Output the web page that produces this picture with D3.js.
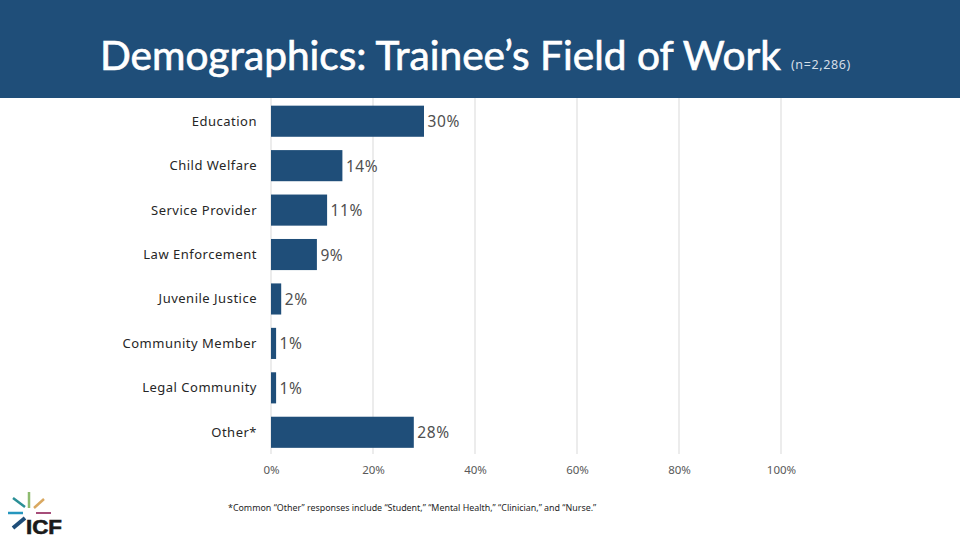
<!DOCTYPE html>
<html>
<head>
<meta charset="utf-8">
<style>
  html, body { margin: 0; padding: 0; background: #fff; }
  svg { display: block; }
  text { font-family: "Noto Sans", sans-serif; }
</style>
<script src="https://cdn.jsdelivr.net/npm/d3@7"></script>
</head>
<body>
<script>
var categories = ['Education', 'Child Welfare', 'Service Provider', 'Law Enforcement',
  'Juvenile Justice', 'Community Member', 'Legal Community', 'Other*'];
var values = [30, 14, 11, 9, 2, 1, 1, 28];
var xTicks = [0, 20, 40, 60, 80, 100];

var titleText = 'Demographics: Trainee\u2019s Field of Work';
var subText = '(n=2,286)';
var noteText = '*Common \u201cOther\u201d responses include \u201cStudent,\u201d \u201cMental Health,\u201d \u201cClinician,\u201d and \u201cNurse.\u201d';

var blue = '#1f4e79';

var svg = d3.select('body').append('svg')
  .attr('width', 960)
  .attr('height', 540);

// header band
svg.append('rect').attr('x', 0).attr('y', 0).attr('width', 960).attr('height', 98).attr('fill', blue);
svg.append('text').attr('x', 100).attr('y', 70)
  .attr('textLength', 681).attr('lengthAdjust', 'spacingAndGlyphs')
  .style('font-family', 'Lato').style('font-size', '41px').attr('fill', '#fff')
  .attr('stroke', '#fff').attr('stroke-width', 0.7)
  .text(titleText);
svg.append('text').attr('x', 791).attr('y', 69)
  .style('font-size', '12.5px').style('letter-spacing', '0.6px').attr('fill', '#d5dee8')
  .text(subText);

var x = d3.scaleLinear().domain([0, 100]).range([271, 781]);
var y = d3.scaleBand().domain(categories).range([99, 454.5]).paddingInner(0.3).paddingOuter(0.15);

// gridlines
svg.append('g').selectAll('line').data(xTicks).enter().append('line')
  .attr('x1', function (d) { return x(d); })
  .attr('x2', function (d) { return x(d); })
  .attr('y1', 98).attr('y2', 454)
  .attr('stroke', '#d9d9d9').attr('stroke-width', 1);

svg.append('g').selectAll('rect').data(values).enter().append('rect')
  .attr('x', x(0))
  .attr('y', function (d, i) { return y(categories[i]); })
  .attr('width', function (d) { return x(d) - x(0); })
  .attr('height', y.bandwidth())
  .attr('fill', blue);

// value labels
svg.append('g').selectAll('text').data(values).enter().append('text')
  .attr('x', function (d) { return x(d) + 3.5; })
  .attr('y', function (d, i) { return y(categories[i]) + y.bandwidth() / 2 + 6; })
  .style('font-size', '15.5px').style('letter-spacing', '0.6px').attr('fill', '#505050')
  .text(function (d) { return d + '%'; });

// category labels
svg.append('g').selectAll('text').data(categories).enter().append('text')
  .attr('x', 257)
  .attr('y', function (d) { return y(d) + y.bandwidth() / 2 + 4.5; })
  .attr('text-anchor', 'end')
  .style('font-size', '13px').style('letter-spacing', '0.5px').attr('fill', '#262626')
  .text(function (d) { return d; });

// x axis labels
svg.append('g').selectAll('text').data(xTicks).enter().append('text')
  .attr('x', function (d) { return x(d) + 0.5; })
  .attr('y', 474)
  .attr('text-anchor', 'middle')
  .style('font-size', '11.5px').attr('fill', '#595959')
  .text(function (d) { return d + '%'; });

svg.append('text').attr('x', 228).attr('y', 511)
  .style('font-size', '8.9px').attr('fill', '#262626')
  .text(noteText);

// ICF logo
var logo = svg.append('g');
logo.selectAll('line').data([
  [29, 492, 29, 508, '#8dbb6f', 2.5],
  [13, 498, 25, 507, '#2a8f96', 2.5],
  [8, 513, 23, 513, '#2596be', 2.5],
  [34, 508, 44, 499, '#d9a860', 2.5],
  [36, 513, 51, 513, '#a64d79', 2],
  [13, 528, 25, 518, '#1f4e79', 4]
]).enter().append('line')
  .attr('x1', function (d) { return d[0]; })
  .attr('y1', function (d) { return d[1]; })
  .attr('x2', function (d) { return d[2]; })
  .attr('y2', function (d) { return d[3]; })
  .attr('stroke', function (d) { return d[4]; })
  .attr('stroke-width', function (d) { return d[5]; });
logo.append('text').attr('x', 26).attr('y', 534)
  .attr('textLength', 36).attr('lengthAdjust', 'spacingAndGlyphs')
  .style('font-family', 'Liberation Sans').style('font-weight', 'bold').style('font-size', '20px')
  .attr('fill', '#1a1a1a').attr('stroke', '#1a1a1a').attr('stroke-width', 0.6)
  .text('ICF');
</script>
</body>
</html>
